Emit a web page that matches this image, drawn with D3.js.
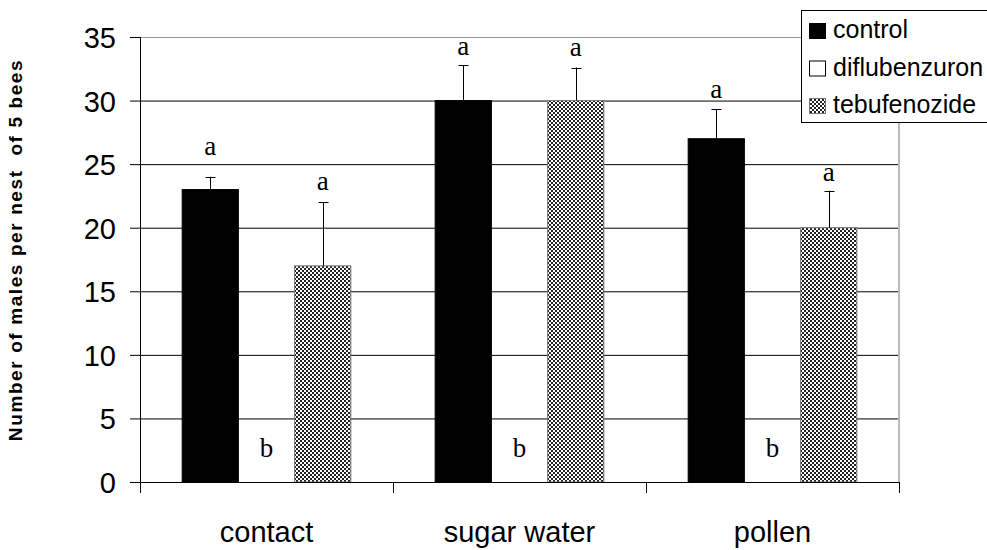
<!DOCTYPE html>
<html><head><meta charset="utf-8">
<script src="https://cdn.jsdelivr.net/npm/d3@7"></script>
<style>body{margin:0;background:#fff}svg{display:block}</style>
</head><body>
<svg id="chart" width="987" height="550"></svg>
<script>
const categories = ["contact", "sugar water", "pollen"];
const seriesNames = ["control", "diflubenzuron", "tebufenozide"];
const control = [23, 30, 27];
const diflubenzuron = [0, 0, 0];
const tebufenozide = [17, 30, 20];
const controlErr = [1, 2.8, 2.3];
const diflubenzuronErr = [null, null, null];
const tebufenozideErr = [5, 2.6, 2.9];
const controlLetters = ["a", "a", "a"];
const diflubenzuronLetters = ["b", "b", "b"];
const tebufenozideLetters = ["a", "a", "a"];
const controlLetterAt = [25.7, 33.6, 30.2];
const diflubenzuronLetterAt = [2.0, 2.0, 2.0];
const tebufenozideLetterAt = [23.0, 33.5, 23.7];
const yTicks = [0, 5, 10, 15, 20, 25, 30, 35];

const values = [control, diflubenzuron, tebufenozide];
const errs = [controlErr, diflubenzuronErr, tebufenozideErr];
const letters = [controlLetters, diflubenzuronLetters, tebufenozideLetters];
const letterAt = [controlLetterAt, diflubenzuronLetterAt, tebufenozideLetterAt];

const svg = d3.select("#chart");
const L = 140, R = 899, T = 37, B = 482;

const defs = svg.append("defs");
const pat = defs.append("pattern").attr("id", "checker")
  .attr("patternUnits", "userSpaceOnUse").attr("width", 4).attr("height", 4);
pat.append("rect").attr("width", 4).attr("height", 4).attr("fill", "#fff");
pat.append("rect").attr("width", 2).attr("height", 2).attr("fill", "#222");
pat.append("rect").attr("x", 2).attr("y", 2).attr("width", 2).attr("height", 2).attr("fill", "#222");

const fills = ["#000", "#fff", "url(#checker)"];
const strokes = ["#000", "#000", "#777"];

const y = d3.scaleLinear().domain([0, 35]).range([B, T]);
const x0 = d3.scaleBand().domain(categories).range([L, R]).padding(0);
const x1 = d3.scaleBand().domain(seriesNames).range([0, x0.bandwidth()]).paddingInner(0).paddingOuter(0.75);

// gridlines
svg.append("g").selectAll("line").data(yTicks.filter(t => t > 0 && t < 35)).join("line")
  .attr("x1", L).attr("x2", R).attr("y1", d => y(d) + 0.5).attr("y2", d => y(d) + 0.5)
  .attr("stroke", "#000").attr("stroke-width", 1);
// plot border top/right gray
svg.append("line").attr("x1", L).attr("x2", R).attr("y1", y(35) + 0.5).attr("y2", y(35) + 0.5)
  .attr("stroke", "#999").attr("stroke-width", 1);
svg.append("line").attr("x1", R).attr("x2", R).attr("y1", y(35)).attr("y2", B)
  .attr("stroke", "#bbb").attr("stroke-width", 2);

// bars
const groups = svg.append("g").selectAll("g").data(categories).join("g")
  .attr("transform", d => `translate(${x0(d)},0)`);
seriesNames.forEach((s, si) => {
  groups.append("rect")
    .attr("x", x1(s)).attr("width", x1.bandwidth())
    .attr("y", (d, ci) => y(values[si][ci]))
    .attr("height", (d, ci) => y(0) - y(values[si][ci]))
    .attr("fill", fills[si]).attr("stroke", strokes[si])
    .attr("stroke-width", 1)
    .style("display", (d, ci) => values[si][ci] > 0 ? null : "none");
  // error bars
  groups.each(function (d, ci) {
    const e = errs[si][ci];
    if (e == null) return;
    const g = d3.select(this);
    const cx = Math.round(x1(s) + x1.bandwidth() / 2) + 0.5;
    g.append("line").attr("x1", cx).attr("x2", cx)
      .attr("y1", y(values[si][ci])).attr("y2", y(values[si][ci] + e))
      .attr("stroke", "#000");
    g.append("line").attr("x1", cx - 5).attr("x2", cx + 5)
      .attr("y1", Math.round(y(values[si][ci] + e)) + 0.5).attr("y2", Math.round(y(values[si][ci] + e)) + 0.5)
      .attr("stroke", "#000");
  });
  groups.append("text")
    .attr("x", x1(s) + x1.bandwidth() / 2)
    .attr("y", (d, ci) => y(letterAt[si][ci]))
    .attr("text-anchor", "middle")
    .attr("font-family", "'Liberation Serif', 'Times New Roman', serif")
    .attr("font-size", 27)
    .attr("fill", "#000")
    .text((d, ci) => letters[si][ci]);
});

// y axis
const yAxis = svg.append("g").attr("transform", `translate(${L},0)`)
  .call(d3.axisLeft(y).tickValues(yTicks).tickSize(10).tickPadding(14));
yAxis.select(".domain").attr("stroke", "#000").attr("d", `M0.5,${T}V${B}`);
yAxis.selectAll(".tick line").attr("stroke", "#000");
yAxis.selectAll("text").attr("font-family", "'Liberation Sans', Arial, sans-serif")
  .attr("font-size", 29).attr("fill", "#000").attr("dy", "0.36em");

// x axis
const xAxis = svg.append("g").attr("transform", `translate(0,${B})`);
xAxis.append("line").attr("x1", L).attr("x2", R).attr("y1", 0.5).attr("y2", 0.5).attr("stroke", "#000");
xAxis.selectAll("line.tk").data(categories.concat([null])).join("line").attr("class", "tk")
  .attr("x1", (d, i) => (d ? x0(d) : R) + 0.5).attr("x2", (d, i) => (d ? x0(d) : R) + 0.5)
  .attr("y1", 0).attr("y2", 11).attr("stroke", "#000");
xAxis.selectAll("text").data(categories).join("text")
  .attr("x", d => x0(d) + x0.bandwidth() / 2).attr("y", 60)
  .attr("text-anchor", "middle")
  .attr("font-family", "'Liberation Sans', Arial, sans-serif").attr("font-size", 29)
  .attr("fill", "#000").text(d => d);

// y title
svg.append("text")
  .attr("transform", "translate(22,250) rotate(-90)")
  .attr("text-anchor", "middle")
  .attr("font-family", "'Liberation Sans', Arial, sans-serif")
  .attr("font-weight", "bold").attr("font-size", 19).attr("fill", "#000")
  .attr("letter-spacing", 1.6)
  .attr("xml:space", "preserve")
  .text("Number of males per nest  of 5 bees");

// legend
const lg = svg.append("g");
lg.append("rect").attr("x", 801.5).attr("y", 10.5).attr("width", 200).attr("height", 112)
  .attr("fill", "#fff").attr("stroke", "#000");
const items = lg.selectAll("g.it").data(seriesNames).join("g").attr("class", "it")
  .attr("transform", (d, i) => `translate(0,${38 + i * 37.5})`);
items.append("rect").attr("x", 809.5).attr("y", -14.5).attr("width", 16).attr("height", 15)
  .attr("fill", (d, i) => fills[i]).attr("stroke", (d, i) => i === 2 ? "#777" : "#000");
items.append("text").attr("x", 833).attr("y", 0)
  .attr("font-family", "'Liberation Sans', Arial, sans-serif").attr("font-size", 25)
  .attr("fill", "#000").text(d => d);
</script>
</body></html>
